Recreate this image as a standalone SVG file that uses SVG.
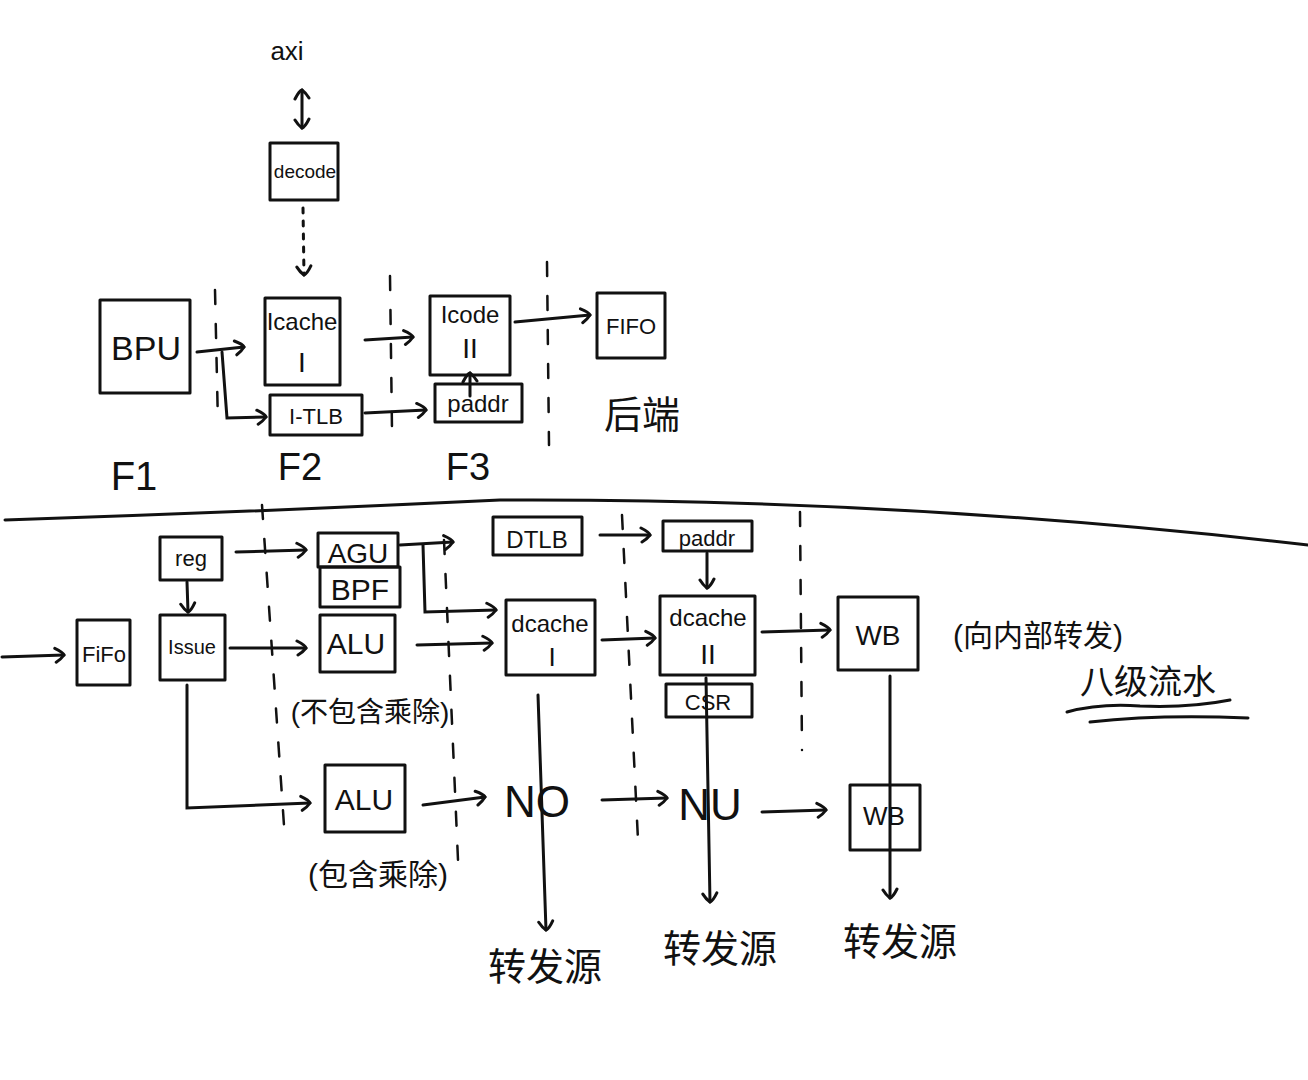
<svg xmlns="http://www.w3.org/2000/svg" width="1308" height="1080" viewBox="0 0 1308 1080">
<defs>
<marker id="ah" markerUnits="userSpaceOnUse" markerWidth="16" markerHeight="18" refX="11" refY="8" orient="auto-start-reverse" viewBox="0 0 16 16">
<path d="M2,1 Q10,5 11,8 Q8,12 3,15" fill="none" stroke="#111" stroke-width="3" stroke-linecap="round"/>
</marker>
<style>
.b{fill:none;stroke:#111;stroke-width:3;stroke-linejoin:round}
.c{fill:none;stroke:#111;stroke-width:3;stroke-linecap:round}
.a{fill:none;stroke:#111;stroke-width:3;stroke-linecap:round;marker-end:url(#ah)}
.d{fill:none;stroke:#111;stroke-width:2.5;stroke-dasharray:14 20;stroke-linecap:round}
.t{font-family:"Liberation Sans","Noto Sans CJK SC",sans-serif;fill:#111;text-anchor:middle}
</style>
</defs>
<rect width="1308" height="1080" fill="#fff"/>

<g id="separator"><path class="c" d="M5,520 Q250,512 500,500 Q900,498 1308,545"/></g>

<g id="stage-lines">
<line class="d" x1="215" y1="290" x2="218" y2="425"/>
<line class="d" x1="390" y1="276" x2="392" y2="430"/>
<line class="d" x1="547" y1="262" x2="549" y2="445"/>
<line class="d" x1="262" y1="505" x2="285" y2="840"/>
<line class="d" x1="444" y1="540" x2="458" y2="860"/>
<line class="d" x1="622" y1="515" x2="638" y2="840"/>
<line class="d" x1="800" y1="512" x2="802" y2="750"/>
</g>

<g id="axi"><text class="t" x="287" y="60" font-size="26">axi</text></g>
<g id="decode"><rect class="b" x="270" y="143" width="68" height="57"/><text class="t" x="305" y="178" font-size="19">decode</text></g>
<g id="bpu"><rect class="b" x="100" y="300" width="90" height="93"/><text class="t" x="146" y="360" font-size="34">BPU</text></g>
<g id="icache1"><rect class="b" x="265" y="298" width="75" height="87"/><text class="t" x="302" y="330" font-size="24">Icache</text><text class="t" x="302" y="372" font-size="28">I</text></g>
<g id="itlb"><rect class="b" x="270" y="395" width="92" height="40"/><text class="t" x="316" y="424" font-size="22">I-TLB</text></g>
<g id="icache2"><rect class="b" x="430" y="296" width="80" height="79"/><text class="t" x="470" y="323" font-size="24">Icode</text><text class="t" x="470" y="358" font-size="28">II</text></g>
<g id="paddr1"><rect class="b" x="435" y="384" width="87" height="38"/><text class="t" x="478" y="412" font-size="24">paddr</text></g>
<g id="fifo1"><rect class="b" x="597" y="293" width="68" height="65"/><text class="t" x="631" y="334" font-size="22">FIFO</text></g>
<g id="backend"><text class="t" x="642" y="428" font-size="38">后端</text></g>
<g id="f1"><text class="t" x="134" y="490" font-size="40">F1</text></g>
<g id="f2"><text class="t" x="300" y="480" font-size="38">F2</text></g>
<g id="f3"><text class="t" x="468" y="480" font-size="38">F3</text></g>

<g id="fifo2"><rect class="b" x="77" y="620" width="53" height="65"/><text class="t" x="104" y="662" font-size="22">FiFo</text></g>
<g id="reg"><rect class="b" x="160" y="537" width="62" height="43"/><text class="t" x="191" y="566" font-size="22">reg</text></g>
<g id="issue"><rect class="b" x="160" y="615" width="65" height="65"/><text class="t" x="192" y="654" font-size="20">Issue</text></g>
<g id="agu"><rect class="b" x="318" y="533" width="80" height="34"/><text class="t" x="358" y="563" font-size="28">AGU</text></g>
<g id="bpf"><rect class="b" x="320" y="567" width="80" height="40"/><text class="t" x="360" y="600" font-size="30">BPF</text></g>
<g id="alu1"><rect class="b" x="320" y="615" width="75" height="57"/><text class="t" x="356" y="654" font-size="30">ALU</text></g>
<g id="alu1-note"><text class="t" x="370" y="722" font-size="28">(不包含乘除)</text></g>
<g id="alu2"><rect class="b" x="325" y="765" width="80" height="67"/><text class="t" x="364" y="810" font-size="30">ALU</text></g>
<g id="alu2-note"><text class="t" x="378" y="885" font-size="30">(包含乘除)</text></g>
<g id="dtlb"><rect class="b" x="493" y="517" width="89" height="38"/><text class="t" x="537" y="548" font-size="24">DTLB</text></g>
<g id="dcache1"><rect class="b" x="506" y="600" width="89" height="75"/><text class="t" x="550" y="632" font-size="24">dcache</text><text class="t" x="552" y="666" font-size="26">I</text></g>
<g id="paddr2"><rect class="b" x="663" y="521" width="89" height="30"/><text class="t" x="707" y="546" font-size="22">paddr</text></g>
<g id="dcache2"><rect class="b" x="660" y="596" width="95" height="79"/><text class="t" x="708" y="626" font-size="24">dcache</text><text class="t" x="708" y="664" font-size="28">II</text></g>
<g id="csr"><rect class="b" x="666" y="684" width="86" height="33"/><text class="t" x="708" y="710" font-size="22">CSR</text></g>
<g id="wb1"><rect class="b" x="838" y="597" width="80" height="73"/><text class="t" x="878" y="645" font-size="28">WB</text></g>
<g id="wb1-note"><text class="t" x="1038" y="646" font-size="30">(向内部转发)</text></g>
<g id="pipeline-note"><text class="t" x="1148" y="694" font-size="34">八级流水</text>
<path class="c" d="M1067,712 Q1100,703 1140,706 Q1190,708 1230,700"/>
<path class="c" d="M1090,722 Q1160,714 1248,718"/></g>
<g id="no1"><text class="t" x="537" y="817" font-size="44">NO</text></g>
<g id="nu"><text class="t" x="710" y="820" font-size="44">NU</text></g>
<g id="wb2"><rect class="b" x="850" y="785" width="70" height="65"/><text class="t" x="884" y="825" font-size="26">WB</text></g>
<g id="src1"><text class="t" x="545" y="980" font-size="38">转发源</text></g>
<g id="src2"><text class="t" x="720" y="962" font-size="38">转发源</text></g>
<g id="src3"><text class="t" x="900" y="955" font-size="38">转发源</text></g>

<g id="connectors">
<path class="a" d="M302,90 L302,128" style="marker-start:url(#ah)"/>
<path class="a" d="M303,208 L304,275" style="stroke-dasharray:5 8"/>
<path class="a" d="M197,352 L244,347"/>
<path class="a" d="M222,352 L227,418 L266,417"/>
<path class="a" d="M365,340 L413,337"/>
<path class="a" d="M365,413 L426,410"/>
<path class="a" d="M470,396 L470,373"/>
<path class="a" d="M515,322 L590,315"/>
<path class="a" d="M2,657 L64,655"/>
<path class="a" d="M187,582 L188,612"/>
<path class="a" d="M236,552 L306,550"/>
<path class="a" d="M230,648 L306,648"/>
<path class="a" d="M187,685 L187,808 L310,803"/>
<path class="a" d="M400,545 L453,542"/>
<path class="a" d="M423,545 L425,612 L496,610"/>
<path class="a" d="M417,645 L492,643"/>
<path class="a" d="M600,535 L650,535"/>
<path class="a" d="M707,553 L707,588"/>
<path class="a" d="M602,640 L655,638"/>
<path class="a" d="M762,632 L830,630"/>
<path class="a" d="M423,805 L485,797"/>
<path class="a" d="M602,800 L667,798"/>
<path class="a" d="M762,812 L826,810"/>
<path class="a" d="M538,695 L546,930"/>
<path class="a" d="M706,678 L710,902"/>
<path class="a" d="M890,676 L890,898"/>
</g>
</svg>
